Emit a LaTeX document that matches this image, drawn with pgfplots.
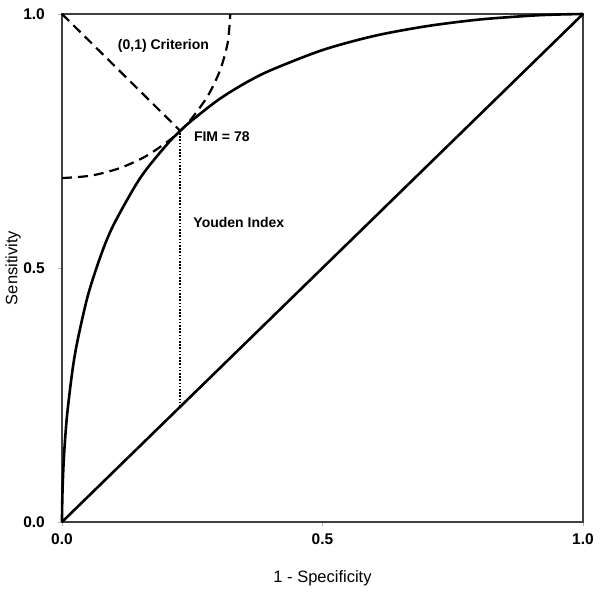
\documentclass[border=0pt]{standalone}
\usepackage{pgfplots}
\pgfplotsset{compat=1.18}
\usepackage{fontspec}
\setmainfont{Liberation Sans}
\begin{document}
\begin{tikzpicture}
\begin{axis}[
  width=521pt, height=508pt, scale only axis,
  xmin=0, xmax=1, ymin=0, ymax=1,
  clip=false,
  axis line style={black!75, line width=1.2pt},
  xtick={0,0.5,1}, ytick={0,0.5,1},
  xtick pos=bottom, ytick pos=left,
  xticklabels={0.0,0.5,1.0}, yticklabels={0.0,0.5,1.0},
  tick align=outside, major tick length=4pt,
  tick style={black!30, line width=0.8pt},
  xticklabel style={font=\fontsize{15.5}{17}\selectfont\bfseries, anchor=center, yshift=-13pt, inner sep=0pt},
  yticklabel style={font=\fontsize{15.5}{17}\selectfont\bfseries, anchor=east, xshift=-13pt, inner sep=0pt},
  xlabel={1 - Specificity}, ylabel={Sensitivity},
  xlabel style={font=\fontsize{16.5}{18}\selectfont, at={(axis description cs:0.5,0)}, anchor=center, yshift=-56pt},
  ylabel style={font=\fontsize{16.5}{18}\selectfont, at={(axis description cs:0,0.5)}, anchor=center, yshift=49pt},
]
% chance diagonal
\addplot[black, line width=2.6pt] coordinates {(0,0) (1,1)};
% ROC curve
\addplot[black, line width=2.6pt, smooth, tension=0.5] coordinates {
(0,0) (0.0002,0.024) (0.001,0.062) (0.0025,0.103) (0.005,0.149) (0.01,0.213)
(0.02,0.298) (0.03,0.358) (0.05,0.447) (0.075,0.526) (0.1,0.587)
(0.15,0.677) (0.2,0.7415) (0.227,0.770) (0.25,0.791) (0.3,0.831)
(0.35,0.863) (0.4,0.889) (0.5,0.929) (0.6,0.957) (0.7,0.976)
(0.8,0.989) (0.9,0.9967) (0.95,0.9989) (1,1)};
% (0,1) criterion line
\addplot[black, line width=2.2pt, dash pattern=on 10pt off 6pt] coordinates {(0,1) (0.227,0.770)};
% arc of circle centred at (0,1)
\addplot[black, line width=2.2pt, dash pattern=on 10pt off 6pt, smooth] coordinates {
(0,0.677) (0.0561,0.6819) (0.1105,0.6965) (0.1615,0.7203) (0.2076,0.7526)
(0.2284,0.7716) (0.2474,0.7924) (0.2797,0.8385) (0.3035,0.8895) (0.3181,0.9439) (0.323,1.0)};
% Youden index
\addplot[black, line width=1.6pt, dash pattern=on 1.6pt off 1.6pt] coordinates {(0.227,0.227) (0.227,0.770)};
\node[anchor=west, font=\fontsize{14}{16}\selectfont\bfseries, inner sep=0pt] at (axis cs:0.107,0.937) {(0,1) Criterion};
\node[anchor=west, font=\fontsize{14}{16}\selectfont\bfseries, inner sep=0pt] at (axis cs:0.253,0.758) {FIM = 78};
\node[anchor=west, font=\fontsize{14}{16}\selectfont\bfseries, inner sep=0pt] at (axis cs:0.252,0.59) {Youden Index};
\coordinate (O) at (rel axis cs:0,0);
\coordinate (T) at (rel axis cs:1,1);
\end{axis}
\path ([xshift=-62pt,yshift=-71pt]O) rectangle ([xshift=17pt,yshift=14pt]T);
\end{tikzpicture}
\end{document}
